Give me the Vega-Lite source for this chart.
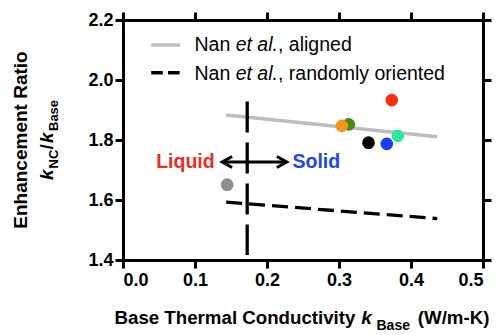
{
  "$schema": "https://vega.github.io/schema/vega-lite/v6.json",
  "width": 360,
  "height": 240,
  "autosize": {"type": "none"},
  "padding": {"left": 123, "top": 20, "right": 13, "bottom": 75},
  "background": "white",
  "config": {
    "view": {"stroke": null},
    "font": "Liberation Sans",
    "axis": {
      "domainColor": "black", "domainWidth": 3, "domainCap": "square",
      "tickColor": "black", "tickWidth": 3, "tickSize": 8,
      "labelFont": "Liberation Sans", "labelFontSize": 18, "labelFontWeight": "bold",
      "labelColor": "black", "labelOverlap": false, "grid": false, "title": null
    }
  },
  "datasets": {
    "points": [
      {"sample": "red", "x": 0.3733, "y": 1.933},
      {"sample": "green", "x": 0.3136, "y": 1.852},
      {"sample": "orange", "x": 0.3039, "y": 1.847},
      {"sample": "black", "x": 0.341, "y": 1.791},
      {"sample": "blue", "x": 0.3664, "y": 1.787},
      {"sample": "teal", "x": 0.3817, "y": 1.814},
      {"sample": "gray", "x": 0.1447, "y": 1.651}
    ],
    "models": [
      {"series": "aligned", "x": 0.1433, "y": 1.883},
      {"series": "aligned", "x": 0.4364, "y": 1.811},
      {"series": "random", "x": 0.1433, "y": 1.593},
      {"series": "random", "x": 0.4364, "y": 1.538}
    ],
    "legendLines": [
      {"series": "aligned", "x": 0.0392, "x2": 0.0794, "y": 2.1167},
      {"series": "random", "x": 0.0392, "x2": 0.0794, "y": 2.0243}
    ],
    "divider": [{"x": 0.1725, "y": 1.928, "y2": 1.417}],
    "shaft": [{"x": 0.1378, "x2": 0.2275, "y": 1.7267}],
    "heads": [
      {"dir": "left", "x": 0.1378, "y": 1.7267},
      {"dir": "right", "x": 0.2275, "y": 1.7267}
    ],
    "labels": [
      {"role": "leg", "text": "Nan", "x": 0.0993, "y": 2.0967},
      {"role": "legi", "text": "et al.", "x": 0.1565, "y": 2.0967},
      {"role": "leg", "text": ", aligned", "x": 0.2153, "y": 2.0967},
      {"role": "leg", "text": "Nan", "x": 0.0993, "y": 2.0},
      {"role": "legi", "text": "et al.", "x": 0.1565, "y": 2.0},
      {"role": "leg", "text": ", randomly oriented", "x": 0.2153, "y": 2.0},
      {"role": "liquid", "text": "Liquid", "x": 0.0461, "y": 1.7057},
      {"role": "solid", "text": "Solid", "x": 0.2354, "y": 1.7057},
      {"role": "xt", "text": "Base Thermal Conductivity", "x": -0.0118, "y": 1.1867},
      {"role": "xk", "text": "k", "x": 0.3308, "y": 1.1867},
      {"role": "xs", "text": "Base", "x": 0.3521, "y": 1.1667},
      {"role": "xt", "text": "(W/m-K)", "x": 0.4094, "y": 1.1867},
      {"role": "yt", "text": "Enhancement Ratio", "x": -0.1333, "y": 1.8},
      {"role": "yk", "text": "k", "x": -0.0979, "y": 1.6667},
      {"role": "ys", "text": "NC", "x": -0.0903, "y": 1.705},
      {"role": "yslash", "text": "/", "x": -0.0979, "y": 1.7683},
      {"role": "yk", "text": "k", "x": -0.0979, "y": 1.79},
      {"role": "ys", "text": "Base", "x": -0.0903, "y": 1.83}
    ]
  },
  "layer": [
    {
      "data": {"name": "models"},
      "transform": [{"filter": "datum.series == 'aligned'"}],
      "mark": {"type": "line", "color": "#bdbdbd", "strokeWidth": 3.5},
      "encoding": {
        "x": {"field": "x", "type": "quantitative", "scale": {"domain": [0, 0.5], "nice": false},
              "axis": {"orient": "top", "labels": false, "values": [0, 0.1, 0.2, 0.3, 0.4, 0.5]}},
        "y": {"field": "y", "type": "quantitative", "scale": {"domain": [1.4, 2.2], "nice": false},
              "axis": {"orient": "right", "labels": false, "values": [1.4, 1.6, 1.8, 2.0, 2.2]}}
      }
    },
    {
      "data": {"name": "models"},
      "transform": [{"filter": "datum.series == 'random'"}],
      "mark": {"type": "line", "color": "black", "strokeWidth": 3.3, "strokeDash": [16, 7]},
      "encoding": {
        "x": {"field": "x", "type": "quantitative", "axis": null},
        "y": {"field": "y", "type": "quantitative", "axis": null}
      }
    },
    {
      "data": {"name": "legendLines"},
      "transform": [{"filter": "datum.series == 'aligned'"}],
      "mark": {"type": "rule", "color": "#bdbdbd", "strokeWidth": 3.5},
      "encoding": {
        "x": {"field": "x", "type": "quantitative", "axis": null},
        "x2": {"field": "x2"},
        "y": {"field": "y", "type": "quantitative", "axis": null}
      }
    },
    {
      "data": {"name": "legendLines"},
      "transform": [{"filter": "datum.series == 'random'"}],
      "mark": {"type": "rule", "color": "black", "strokeWidth": 3.5, "strokeDash": [11.6, 5.2]},
      "encoding": {
        "x": {"field": "x", "type": "quantitative", "axis": null},
        "x2": {"field": "x2"},
        "y": {"field": "y", "type": "quantitative", "axis": null}
      }
    },
    {
      "data": {"name": "divider"},
      "mark": {"type": "rule", "color": "black", "strokeWidth": 3.3, "strokeDash": [31, 10]},
      "encoding": {
        "x": {"field": "x", "type": "quantitative", "axis": null},
        "y": {"field": "y", "type": "quantitative", "axis": null},
        "y2": {"field": "y2"}
      }
    },
    {
      "data": {"name": "shaft"},
      "mark": {"type": "rule", "color": "black", "strokeWidth": 3},
      "encoding": {
        "x": {"field": "x", "type": "quantitative", "axis": null},
        "x2": {"field": "x2"},
        "y": {"field": "y", "type": "quantitative", "axis": null}
      }
    },
    {
      "data": {"name": "heads"},
      "mark": {"type": "point", "filled": false, "color": "black", "strokeWidth": 3, "size": 121, "opacity": 1},
      "encoding": {
        "x": {"field": "x", "type": "quantitative", "axis": null},
        "y": {"field": "y", "type": "quantitative", "axis": null},
        "shape": {"field": "dir", "type": "nominal", "legend": null,
                  "scale": {"domain": ["left", "right"], "range": ["M1.8,-1L0,0L1.8,1", "M-1.8,-1L0,0L-1.8,1"]}}
      }
    },
    {
      "data": {"name": "points"},
      "mark": {"type": "point", "filled": true, "shape": "circle", "size": 160, "opacity": 1, "strokeWidth": 0},
      "encoding": {
        "x": {"field": "x", "type": "quantitative",
              "axis": {"orient": "bottom", "values": [0, 0.1, 0.2, 0.3, 0.4, 0.5], "format": ".1f", "labelPadding": 3}},
        "y": {"field": "y", "type": "quantitative",
              "axis": {"orient": "left", "values": [1.4, 1.6, 1.8, 2.0, 2.2], "format": ".1f", "labelPadding": 2}},
        "color": {"field": "sample", "type": "nominal", "legend": null,
                  "scale": {"domain": ["red", "green", "orange", "black", "blue", "teal", "gray"],
                            "range": ["#ff2d0a", "#4a8a10", "#f7941d", "#000000", "#1a3cff", "#2ee8a0", "#8c8c8c"]}}
      }
    },
    {
      "data": {"name": "labels"},
      "transform": [{"filter": "datum.role == 'leg'"}],
      "mark": {"type": "text", "font": "Liberation Sans", "fontSize": 19.5, "align": "left", "baseline": "alphabetic", "color": "black"},
      "encoding": {"x": {"field": "x", "type": "quantitative", "axis": null}, "y": {"field": "y", "type": "quantitative", "axis": null}, "text": {"field": "text"}}
    },
    {
      "data": {"name": "labels"},
      "transform": [{"filter": "datum.role == 'legi'"}],
      "mark": {"type": "text", "font": "Liberation Sans", "fontSize": 19.5, "fontStyle": "italic", "align": "left", "baseline": "alphabetic", "color": "black"},
      "encoding": {"x": {"field": "x", "type": "quantitative", "axis": null}, "y": {"field": "y", "type": "quantitative", "axis": null}, "text": {"field": "text"}}
    },
    {
      "data": {"name": "labels"},
      "transform": [{"filter": "datum.role == 'liquid'"}],
      "mark": {"type": "text", "font": "Liberation Sans", "fontSize": 19.5, "fontWeight": "bold", "align": "left", "baseline": "alphabetic", "color": "#ee2b1d"},
      "encoding": {"x": {"field": "x", "type": "quantitative", "axis": null}, "y": {"field": "y", "type": "quantitative", "axis": null}, "text": {"field": "text"}}
    },
    {
      "data": {"name": "labels"},
      "transform": [{"filter": "datum.role == 'solid'"}],
      "mark": {"type": "text", "font": "Liberation Sans", "fontSize": 19.5, "fontWeight": "bold", "align": "left", "baseline": "alphabetic", "color": "#1f43f0"},
      "encoding": {"x": {"field": "x", "type": "quantitative", "axis": null}, "y": {"field": "y", "type": "quantitative", "axis": null}, "text": {"field": "text"}}
    },
    {
      "data": {"name": "labels"},
      "transform": [{"filter": "datum.role == 'xt'"}],
      "mark": {"type": "text", "font": "Liberation Sans", "fontSize": 18.7, "fontWeight": "bold", "align": "left", "baseline": "alphabetic", "color": "black"},
      "encoding": {"x": {"field": "x", "type": "quantitative", "axis": null}, "y": {"field": "y", "type": "quantitative", "axis": null}, "text": {"field": "text"}}
    },
    {
      "data": {"name": "labels"},
      "transform": [{"filter": "datum.role == 'xk'"}],
      "mark": {"type": "text", "font": "Liberation Sans", "fontSize": 19, "fontWeight": "bold", "fontStyle": "italic", "align": "left", "baseline": "alphabetic", "color": "black"},
      "encoding": {"x": {"field": "x", "type": "quantitative", "axis": null}, "y": {"field": "y", "type": "quantitative", "axis": null}, "text": {"field": "text"}}
    },
    {
      "data": {"name": "labels"},
      "transform": [{"filter": "datum.role == 'xs'"}],
      "mark": {"type": "text", "font": "Liberation Sans", "fontSize": 14, "fontWeight": "bold", "align": "left", "baseline": "alphabetic", "color": "black"},
      "encoding": {"x": {"field": "x", "type": "quantitative", "axis": null}, "y": {"field": "y", "type": "quantitative", "axis": null}, "text": {"field": "text"}}
    },
    {
      "data": {"name": "labels"},
      "transform": [{"filter": "datum.role == 'yt'"}],
      "mark": {"type": "text", "font": "Liberation Sans", "fontSize": 19, "fontWeight": "bold", "angle": 270, "align": "center", "baseline": "alphabetic", "color": "black"},
      "encoding": {"x": {"field": "x", "type": "quantitative", "axis": null}, "y": {"field": "y", "type": "quantitative", "axis": null}, "text": {"field": "text"}}
    },
    {
      "data": {"name": "labels"},
      "transform": [{"filter": "datum.role == 'yk'"}],
      "mark": {"type": "text", "font": "Liberation Sans", "fontSize": 19, "fontWeight": "bold", "fontStyle": "italic", "angle": 270, "align": "left", "baseline": "alphabetic", "color": "black"},
      "encoding": {"x": {"field": "x", "type": "quantitative", "axis": null}, "y": {"field": "y", "type": "quantitative", "axis": null}, "text": {"field": "text"}}
    },
    {
      "data": {"name": "labels"},
      "transform": [{"filter": "datum.role == 'yslash'"}],
      "mark": {"type": "text", "font": "Liberation Sans", "fontSize": 19, "fontWeight": "bold", "angle": 270, "align": "left", "baseline": "alphabetic", "color": "black"},
      "encoding": {"x": {"field": "x", "type": "quantitative", "axis": null}, "y": {"field": "y", "type": "quantitative", "axis": null}, "text": {"field": "text"}}
    },
    {
      "data": {"name": "labels"},
      "transform": [{"filter": "datum.role == 'ys'"}],
      "mark": {"type": "text", "font": "Liberation Sans", "fontSize": 13, "fontWeight": "bold", "angle": 270, "align": "left", "baseline": "alphabetic", "color": "black"},
      "encoding": {"x": {"field": "x", "type": "quantitative", "axis": null}, "y": {"field": "y", "type": "quantitative", "axis": null}, "text": {"field": "text"}}
    }
  ],
  "resolve": {"axis": {"x": "independent", "y": "independent"}}
}
